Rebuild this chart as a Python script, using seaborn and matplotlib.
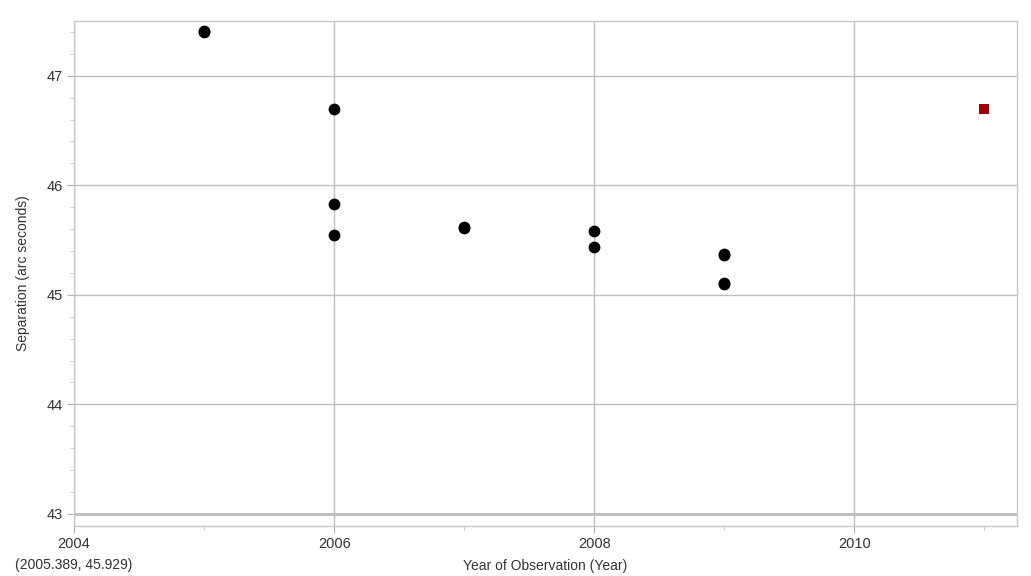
import matplotlib
matplotlib.use("Agg")
import matplotlib.pyplot as plt
import seaborn as sns
import pandas as pd
from matplotlib.ticker import MultipleLocator

# Data
obs_years = [2005, 2005, 2006, 2006, 2006, 2007, 2007, 2008, 2008, 2009, 2009, 2009, 2009]
obs_sep = [47.40, 47.41, 46.70, 45.83, 45.545, 45.61, 45.62, 45.585, 45.435, 45.36, 45.37, 45.10, 45.11]
pred_years = [2011]
pred_sep = [46.70]
x_ticks = [2004, 2006, 2008, 2010]
y_ticks = [43, 44, 45, 46, 47]
cursor_text = "(2005.389, 45.929)"

sns.set_theme(style="white")
plt.rcParams['font.family'] = ['Liberation Sans', 'DejaVu Sans']

df_obs = pd.DataFrame({"year": obs_years, "sep": obs_sep})
df_pred = pd.DataFrame({"year": pred_years, "sep": pred_sep})

fig = plt.figure(figsize=(10.31, 5.76), dpi=100)
ax = fig.add_axes([74/1031, 1 - 526/576, (1017-74)/1031, (526-21)/576])

sns.scatterplot(data=df_obs, x="year", y="sep", ax=ax, color="black", s=72,
                marker="o", edgecolor="black", linewidth=0, zorder=3)
sns.scatterplot(data=df_pred, x="year", y="sep", ax=ax, color="#a00000", s=58,
                marker="s", edgecolor="#a00000", linewidth=0, zorder=3)

ax.set_xlim(2004, 2011.25)
ax.set_ylim(42.89, 47.5)
ax.set_xticks(x_ticks)
ax.set_yticks(y_ticks)
ax.xaxis.set_minor_locator(MultipleLocator(1))
ax.yaxis.set_minor_locator(MultipleLocator(0.2))

ax.grid(True, which="major", color="#c0c0c0", linewidth=1.0)
ax.axhline(43, color="#c0c0c0", linewidth=2.2, zorder=1)
ax.set_axisbelow(True)

for sp in ax.spines.values():
    sp.set_color("#c8c8c8")
    sp.set_linewidth(1.0)

ax.tick_params(axis="both", which="major", direction="out", length=5, width=0.8,
               color="#b0b0b0", labelsize=10.5, labelcolor="#333333", pad=3)
ax.tick_params(axis="both", which="minor", direction="out", length=3, width=0.6,
               color="#c0c0c0")
ax.tick_params(axis="both", which="both", bottom=True, left=True)

ax.set_xlabel("Year of Observation (Year)", fontsize=10, color="#333333", labelpad=6)
ax.set_ylabel("Separation (arc seconds)", fontsize=10, color="#333333", labelpad=12)

fig.text(15/1031, 1 - 565/576, cursor_text, fontsize=10, color="#333333", va="center", ha="left")

fig.savefig("out.png", dpi=100)
